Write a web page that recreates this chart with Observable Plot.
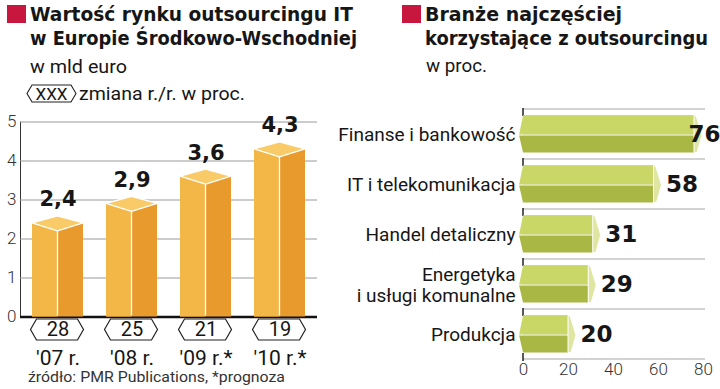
<!DOCTYPE html>
<html><head><meta charset="utf-8">
<script src="https://cdn.jsdelivr.net/npm/d3@7"></script>
<script src="https://cdn.jsdelivr.net/npm/@observablehq/plot@0.6"></script>
<style>
body{margin:0;background:#fff;}
#wrap{position:relative;width:720px;height:389px;overflow:hidden;background:#fff;}
.abs{position:absolute;white-space:nowrap;}
.fit{display:inline-block;transform-origin:0 0;}
.sq{position:absolute;width:19px;height:18px;background:#c8173f;}
.title{font-family:"DejaVu Sans";font-weight:bold;font-size:19px;line-height:24px;color:#161616;}
.sub{font-family:Roboto;font-size:19px;line-height:22px;color:#161616;}
.src{font-family:Roboto;font-size:15px;line-height:15px;color:#333;}
#left,#right{position:absolute;top:0;}
#left{left:0;} #right{left:360px;}
</style></head>
<body>
<div id="wrap">
  <div class="sq" style="left:7px;top:5px"></div>
  <div class="abs title" style="left:30px;top:2.2px"><span class="fit" data-w="323">Wartość rynku outsourcingu IT</span></div>
  <div class="abs title" style="left:30px;top:26.2px"><span class="fit" data-w="327">w Europie Środkowo-Wschodniej</span></div>
  <div class="abs sub" style="left:30px;top:55.5px"><span class="fit" data-w="97">w mld euro</span></div>
  <svg class="abs" style="left:26px;top:84px" width="51" height="19"><path d="M1,9.5L6,1H45L50,9.5L45,18H6Z" fill="#fff" stroke="#222" stroke-width="1.1"/><text x="25.5" y="15.5" text-anchor="middle" font-family="Roboto" font-size="17" fill="#161616">XXX</text></svg>
  <div class="abs sub" style="left:79px;top:82.5px"><span class="fit" data-w="166">zmiana r./r. w proc.</span></div>
  <div class="sq" style="left:402px;top:5px"></div>
  <div class="abs title" style="left:425px;top:2.2px"><span class="fit" data-w="197">Branże najczęściej</span></div>
  <div class="abs title" style="left:425px;top:26.2px"><span class="fit" data-w="283">korzystające z outsourcingu</span></div>
  <div class="abs sub" style="left:426px;top:54.5px"><span class="fit" data-w="61">w proc.</span></div>
  <div id="left"></div>
  <div id="right"></div>
  <div class="abs src" style="left:28px;top:369.5px"><span class="fit" data-w="257">źródło: PMR Publications, *prognoza</span></div>
</div>
<script>
// ---- data: left chart
const years = ["'07 r.", "'08 r.", "'09 r.*", "'10 r.*"];
const marketValues = [2.4, 2.9, 3.6, 4.3];
const yoyChange = [28, 25, 21, 19];
const leftTicks = [0, 1, 2, 3, 4, 5];
// ---- data: right chart
const sectors = ["Finanse i bankowość", "IT i telekomunikacja", "Handel detaliczny", "Energetyka\ni usługi komunalne", "Produkcja"];
const sectorShares = [76, 58, 31, 29, 20];
const rightTicks = [0, 20, 40, 60, 80];

const leftData = years.map((year, i) => ({year, value: marketValues[i], change: yoyChange[i]}));
const rightData = sectors.map((name, i) => ({name, value: sectorShares[i]}));
const fmt = v => String(v).replace(".", ",");

document.querySelectorAll(".fit").forEach(el => {
  const w = el.getBoundingClientRect().width;
  if (w > 0) el.style.transform = `scaleX(${+el.dataset.w / w})`;
});

function leftDecor(index, scales) {
  const {x, y} = scales;
  const g = d3.create("svg:g");
  const bw = x.bandwidth();
  leftData.forEach(d => {
    const xl = x(d.year), c = xl + bw / 2, xr = xl + bw, ys = y(d.value), y0 = y(0);
    g.append("line").attr("x1", c).attr("x2", c).attr("y1", ys + 8).attr("y2", y0 - 1)
      .attr("stroke", "#fff").attr("stroke-width", 1.3);
    g.append("path").attr("d", `M${xl},${ys}L${c},${ys + 8}L${xr},${ys}L${c},${ys - 7}Z`)
      .attr("fill", "#f9cb68").attr("stroke", "#fff").attr("stroke-width", 1.3).attr("stroke-linejoin", "round");
    const hy = y0 + 13, hh = 10.5, hl = xl - 1.5, hr = xr + 0.5;
    g.append("path").attr("d", `M${hl},${hy}L${hl + 6},${hy - hh}L${hr - 6},${hy - hh}L${hr},${hy}L${hr - 6},${hy + hh}L${hl + 6},${hy + hh}Z`)
      .attr("fill", "#fff").attr("stroke", "#222").attr("stroke-width", 1.2);
  });
  return g.node();
}

const left = Plot.plot({
  width: 360, height: 389,
  marginLeft: 20, marginRight: 43, marginTop: 121.5, marginBottom: 72.5,
  style: {fontFamily: "Roboto", fontSize: "17px", fontWeight: 300, color: "#333", background: "transparent", overflow: "visible"},
  x: {domain: years, paddingInner: 0.31, paddingOuter: 0.155, axis: null},
  y: {domain: [0, 5], ticks: leftTicks, tickFormat: d => String(d), tickSize: 0, tickPadding: 4, line: true, label: null},
  marks: [
    Plot.ruleY(leftTicks.slice(1), {stroke: "#9a9a9a", strokeWidth: 1}),
    Plot.ruleY([0], {stroke: "#111", strokeWidth: 2.5}),
    Plot.barY(leftData, {x: "year", y: "value", fill: "#e89a2c"}),
    Plot.barY(leftData, {x: "year", y: "value", fill: "#f3b747", insetRight: 25.6}),
    leftDecor,
    Plot.text(leftData, {x: "year", y: "value", text: d => fmt(d.value), dy: -17, lineAnchor: "bottom",
      fontFamily: "DejaVu Sans", fontWeight: "bold", fontSize: 21, fill: "#161616"}),
    Plot.text(leftData, {x: "year", y: () => 0, text: d => String(d.change), dy: 13, lineAnchor: "middle",
      fontFamily: "Roboto", fontWeight: 400, fontSize: 20, fill: "#161616"}),
    Plot.text(leftData, {x: "year", y: () => 0, text: "year", dy: 47.5, lineAnchor: "bottom",
      fontFamily: "Roboto", fontWeight: 400, fontSize: 21, fill: "#161616"})
  ]
});
document.getElementById("left").append(left);

function rightDecor(index, scales) {
  const {x, y} = scales;
  const g = d3.create("svg:g");
  const bw = y.bandwidth();
  const x0 = x(0), xEnd = x(80) + 2;
  rightData.forEach(d => {
    const yb = y(d.name);
    g.append("line").attr("x1", x0).attr("x2", xEnd).attr("y1", yb).attr("y2", yb).attr("stroke", "#a8a8a8").attr("stroke-width", 1.2);
    g.append("line").attr("x1", x0).attr("x2", x0).attr("y1", yb - 1).attr("y2", yb + 7).attr("stroke", "#222").attr("stroke-width", 1.5);
  });
  const ylast = y(rightData[rightData.length - 1].name) + bw;
  g.append("line").attr("x1", x0).attr("x2", xEnd).attr("y1", ylast).attr("y2", ylast).attr("stroke", "#a8a8a8").attr("stroke-width", 1.2);
  g.append("line").attr("x1", x0).attr("x2", x0).attr("y1", ylast - 6).attr("y2", ylast + 2).attr("stroke", "#222").attr("stroke-width", 1.5);
  return g.node();
}

function rightCaps(index, scales) {
  const {x, y} = scales;
  const g = d3.create("svg:g");
  const bw = y.bandwidth();
  const x0 = x(0);
  rightData.forEach(d => {
    const yt = y(d.name) + 6.5, ym = yt + 19.5, yo = y(d.name) + bw - 6.5, xe = x(d.value);
    g.append("path").attr("d", `M${x0},${yt}L${x0 - 4},${ym}L${x0},${ym}Z`).attr("fill", "#c9d766");
    g.append("path").attr("d", `M${x0 - 4},${ym}L${x0},${yo}L${x0},${ym}Z`).attr("fill", "#a9b745");
    g.append("line").attr("x1", x0 - 4).attr("x2", xe).attr("y1", ym).attr("y2", ym).attr("stroke", "#fff").attr("stroke-width", 1.2);
    g.append("path").attr("d", `M${xe},${yt}L${xe + 2},${yt}L${xe + 8},${ym}L${xe + 3},${yo}L${xe},${yo}Z`)
      .attr("fill", "#dfe6a2").attr("stroke", "#fff").attr("stroke-width", 1).attr("stroke-linejoin", "round");
  });
  return g.node();
}

const right = Plot.plot({
  width: 360, height: 389,
  marginLeft: 163, marginRight: 17, marginTop: 107, marginBottom: 29,
  style: {fontFamily: "Roboto", fontSize: "17px", fontWeight: 300, color: "#333", background: "transparent", overflow: "visible"},
  x: {domain: [0, 80], ticks: rightTicks, tickFormat: d => String(d), tickSize: 0, tickPadding: 2, label: null},
  y: {domain: sectors, padding: 0, axis: null},
  marks: [
    rightDecor,
    Plot.barX(rightData, {y: "name", x: "value", fill: "#a9b745", insetTop: 6.5, insetBottom: 6.5}),
    Plot.barX(rightData, {y: "name", x: "value", fill: "#c9d766", insetTop: 6.5, insetBottom: 24.6}),
    rightCaps,
    Plot.text(rightData, {y: "name", text: "name", frameAnchor: "left", dx: -8, textAnchor: "end", lineAnchor: "middle", lineHeight: 1.1,
      fontFamily: "Roboto", fontWeight: 400, fontSize: 19, fill: "#161616"}),
    Plot.text(rightData, {y: "name", x: d => Math.min(d.value + 5.3, 73.3), text: d => String(d.value), textAnchor: "start", lineAnchor: "middle",
      fontFamily: "DejaVu Sans", fontWeight: "bold", fontSize: 23, fill: "#161616"})
  ]
});
document.getElementById("right").append(right);
</script>
</body></html>
